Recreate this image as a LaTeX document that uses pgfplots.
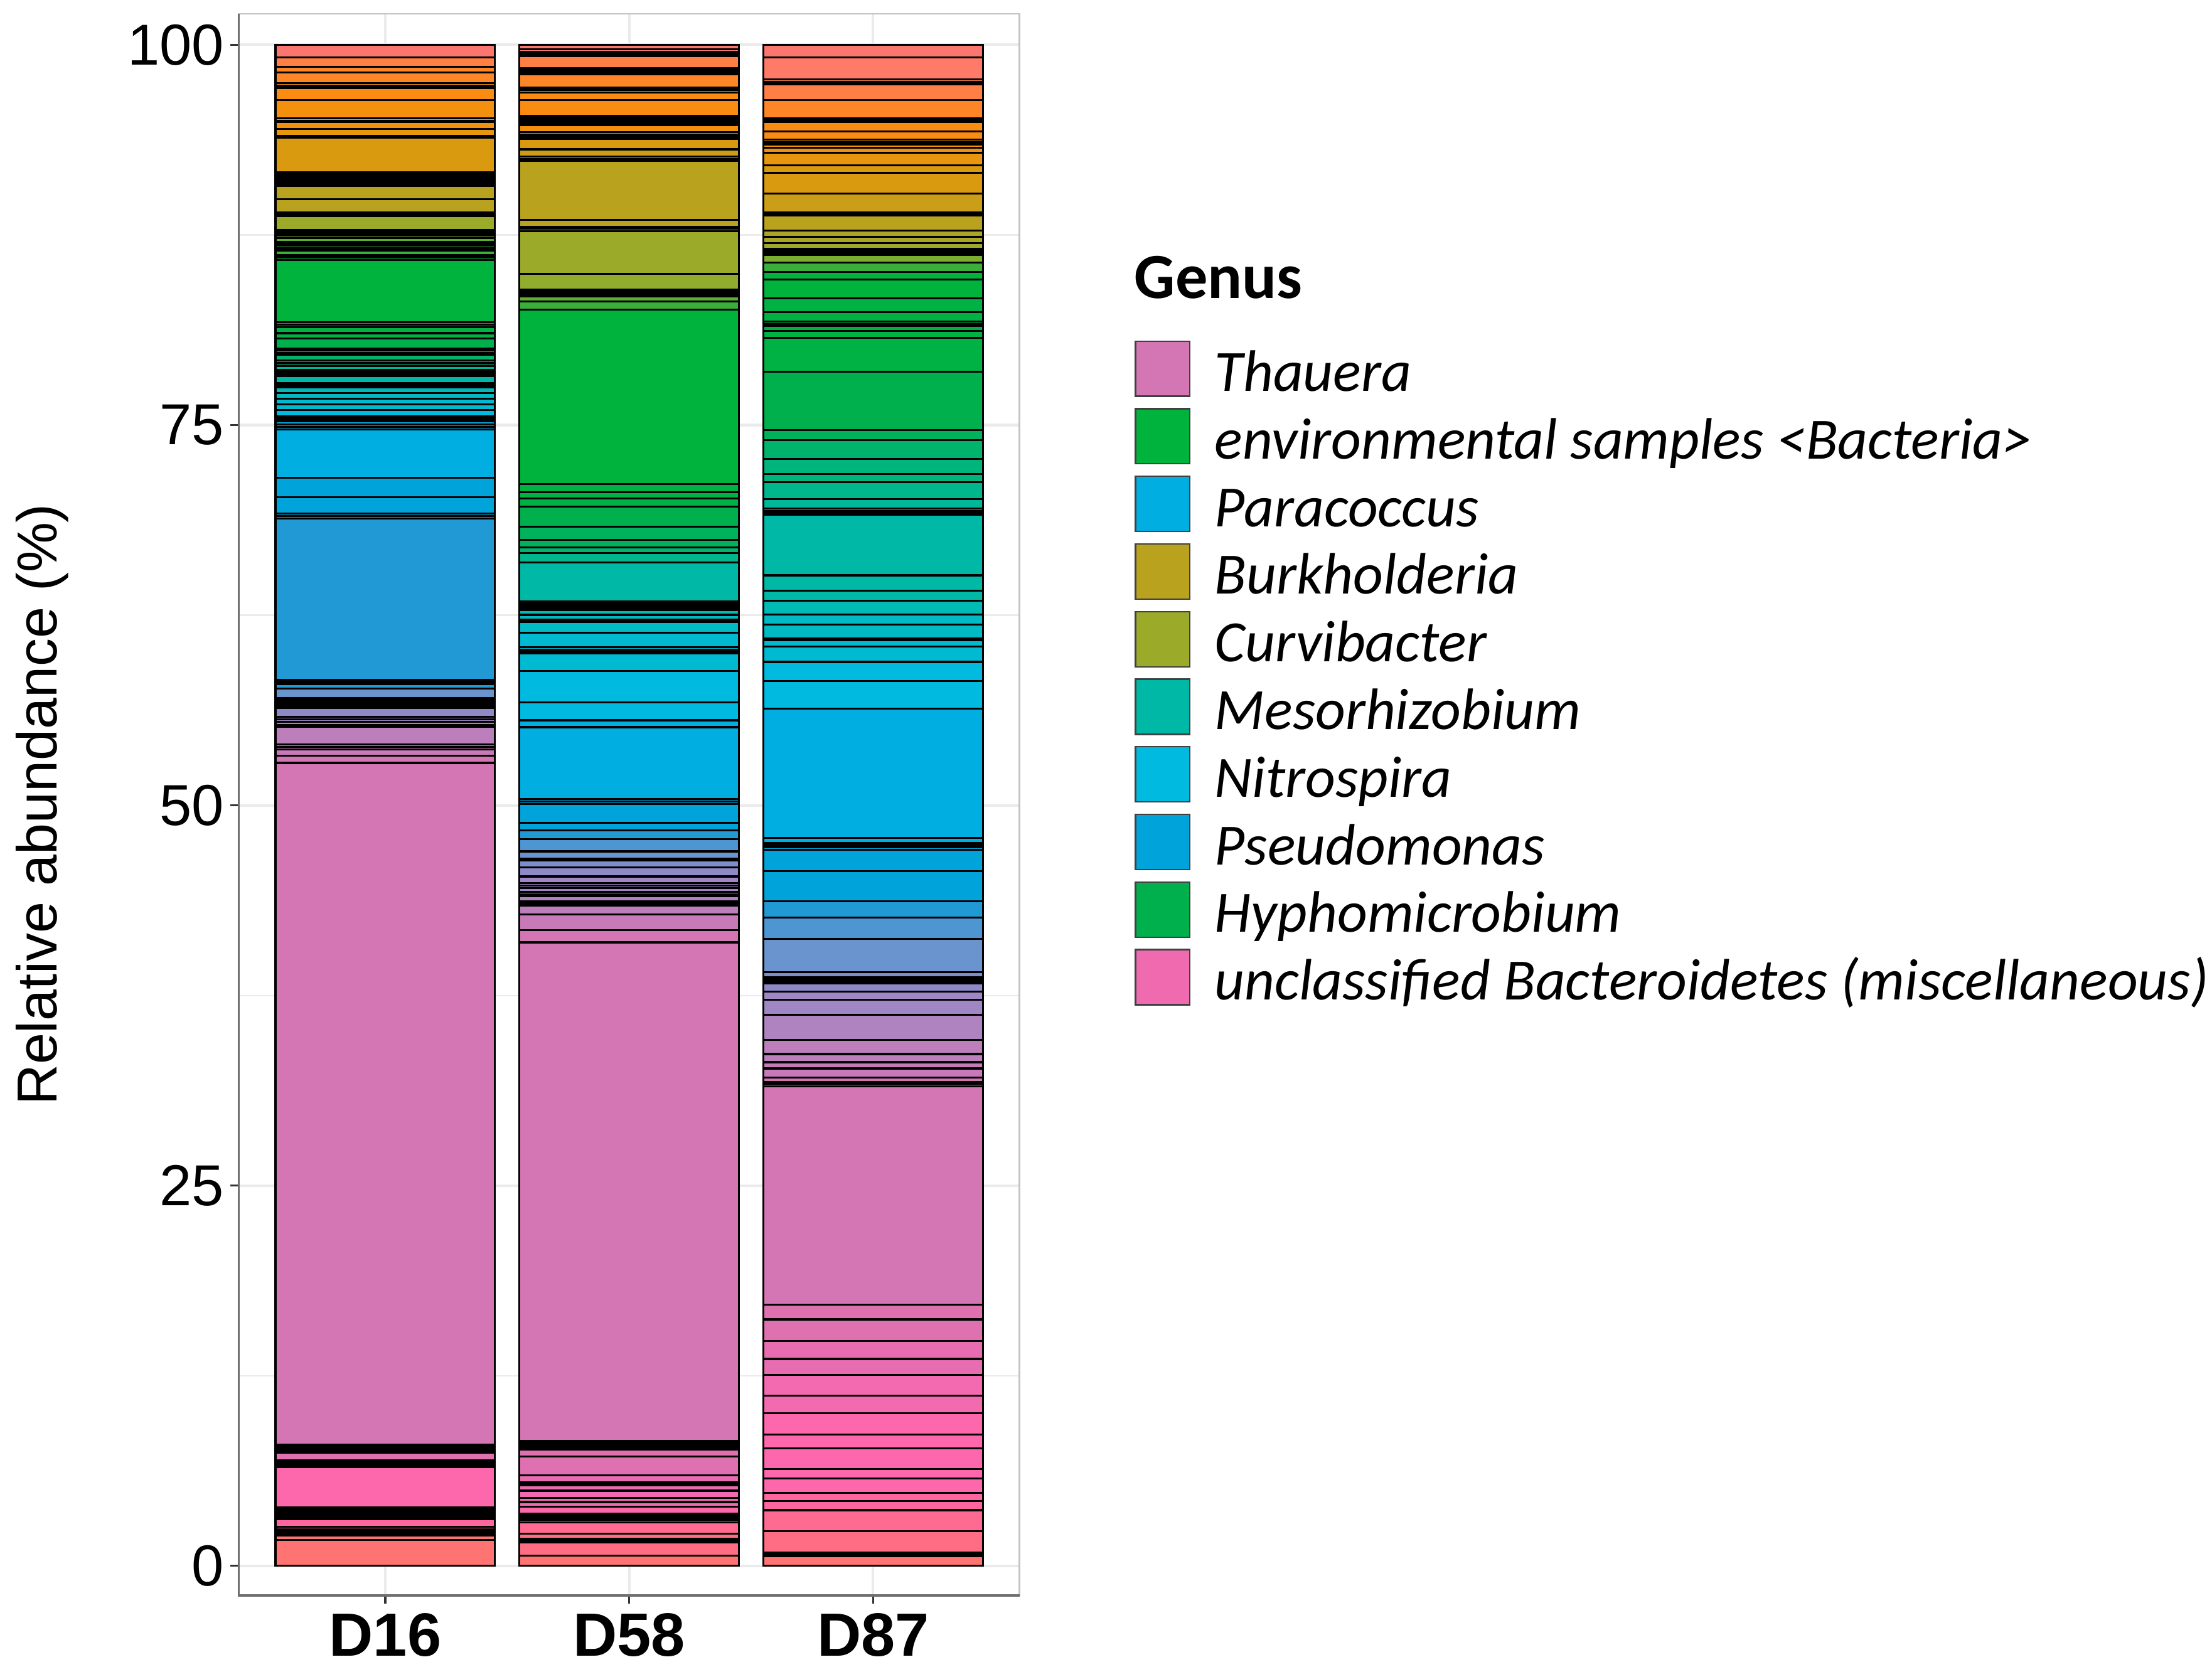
\documentclass[border=0pt]{standalone}
\usepackage{pgfplots}
\usepackage{pgfplotstable}
\pgfplotsset{compat=1.18}
\usepackage{fontspec}
\setmainfont{Liberation Sans}
\newfontfamily\calib{Carlito}

% genus palette, from the top of the stack down to the bottom
\definecolor{r1}{HTML}{FA766E}
\definecolor{r2}{HTML}{FF7B68}
\definecolor{o1}{HTML}{FF7F45}
\definecolor{o2}{HTML}{FF8626}
\definecolor{o3}{HTML}{FA8C12}
\definecolor{o4}{HTML}{F3910E}
\definecolor{o5}{HTML}{E8960E}
\definecolor{g1}{HTML}{DA9A10}
\definecolor{g2}{HTML}{CB9E17}
\definecolor{g3}{HTML}{B9A21E}
\definecolor{y1}{HTML}{AAA526}
\definecolor{y2}{HTML}{9CAA2A}
\definecolor{y2b}{HTML}{92AD2E}
\definecolor{y3}{HTML}{7CAE30}
\definecolor{y4}{HTML}{5BB032}
\definecolor{gr1}{HTML}{3AB03A}
\definecolor{gr2}{HTML}{00B33C}
\definecolor{gr3}{HTML}{00B143}
\definecolor{gr4}{HTML}{00B04C}
\definecolor{gr5}{HTML}{00B25C}
\definecolor{gr6}{HTML}{00B46C}
\definecolor{gr7}{HTML}{00B57C}
\definecolor{gr8}{HTML}{00B68C}
\definecolor{t1}{HTML}{00B798}
\definecolor{t2}{HTML}{00B8A6}
\definecolor{t3}{HTML}{00BAB6}
\definecolor{t4}{HTML}{00BAC4}
\definecolor{c1}{HTML}{00BAD2}
\definecolor{c2}{HTML}{00BAE0}
\definecolor{b1}{HTML}{00AEE2}
\definecolor{b2}{HTML}{00A4DA}
\definecolor{b3}{HTML}{2099D4}
\definecolor{b4}{HTML}{4E96D2}
\definecolor{b5}{HTML}{6A94CE}
\definecolor{b6}{HTML}{7C8FCB}
\definecolor{pu1}{HTML}{8E8AC8}
\definecolor{pu2}{HTML}{A086C4}
\definecolor{pu3}{HTML}{AE83C0}
\definecolor{pu4}{HTML}{BC7FBC}
\definecolor{pu5}{HTML}{C87AB8}
\definecolor{th}{HTML}{D476B4}
\definecolor{pk1}{HTML}{DF71B1}
\definecolor{pk2}{HTML}{E86DB0}
\definecolor{pk3}{HTML}{F36AB0}
\definecolor{pk4}{HTML}{FD67AC}
\definecolor{pk5}{HTML}{FF66A0}
\definecolor{pk6}{HTML}{FF6A92}
\definecolor{pk7}{HTML}{FF6D84}
\definecolor{r0}{HTML}{FF7373}
\definecolor{unclL}{HTML}{F06AB0}
\definecolor{gridc}{HTML}{EBEBEB}
\definecolor{bordc}{HTML}{C4C4C4}
\definecolor{axisc}{HTML}{6F6F6F}
\definecolor{tickc}{HTML}{333333}

% cumulative top (%) of every segment, read top-down
\pgfplotstableread[row sep=\\]{
top col\\
100 r1\\ 99.18 o1\\ 98.55 o2\\ 98.17 o2\\ 97.48 o3\\ 97.32 o3\\ 97.17 o3\\ 96.35 o4\\
95.18 o4\\ 95.02 o4\\ 94.91 o4\\ 94.46 o5\\ 94.01 o5\\ 93.88 g1\\ 91.61 g1\\ 91.48 g2\\
91.35 g2\\ 91.22 g2\\ 91.09 g2\\ 90.96 g2\\ 90.84 g2\\ 90.72 g3\\ 89.84 g3\\ 89.00 y1\\
88.86 y1\\ 88.73 y2\\ 87.83 y3\\ 87.70 y3\\ 87.57 y3\\ 87.44 y3\\ 87.28 y4\\ 87.04 y4\\
86.92 gr1\\ 86.80 gr1\\ 86.62 gr1\\ 86.49 gr1\\ 86.16 gr2\\ 86.00 gr2\\ 85.84 gr2\\
81.77 gr3\\ 81.61 gr3\\ 81.45 gr3\\ 81.04 gr3\\ 80.68 gr4\\ 80.04 gr5\\ 79.90 gr5\\
79.76 gr5\\ 79.62 gr6\\ 79.25 gr7\\ 79.08 gr7\\ 78.90 t1\\ 78.61 t1\\ 78.47 t1\\ 78.34 t1\\
78.20 t2\\ 77.74 t3\\ 77.60 t3\\ 77.47 t3\\ 77.12 t4\\ 76.74 c1\\ 76.37 c1\\ 75.99 c2\\
75.59 c2\\ 75.43 b2\\ 75.27 b2\\ 75.04 b2\\ 74.88 b2\\ 74.72 b1\\ 71.55 b2\\ 70.26 b2\\
69.18 b2\\ 69.02 b3\\ 68.85 b3\\ 58.23 b3\\ 58.09 b3\\ 57.96 b3\\ 57.66 b5\\ 57.06 b6\\
56.93 b6\\ 56.80 b6\\ 56.67 b6\\ 56.54 b6\\ 56.41 pu1\\ 55.83 pu2\\ 55.66 pu2\\ 55.48 pu3\\
55.30 pu3\\ 55.17 pu4\\ 54.02 pu5\\ 53.84 pu5\\ 53.66 pu5\\ 53.26 th\\ 52.79 th\\
7.95 pk1\\ 7.82 pk1\\ 7.69 pk1\\ 7.56 pk1\\ 7.45 pk1\\ 6.92 pk2\\ 6.78 pk2\\ 6.64 pk2\\
6.51 pk4\\ 3.83 pk4\\ 3.70 pk4\\ 3.57 pk5\\ 3.44 pk5\\ 3.31 pk5\\ 3.18 pk5\\ 3.08 pk5\\
2.58 pk6\\ 2.39 pk7\\ 2.26 pk7\\ 2.13 pk7\\ 2.01 r0\\ 1.72 r0\\
}\dsixteen

\pgfplotstableread[row sep=\\]{
top col\\
100 r1\\ 99.70 r1\\ 99.52 r1\\ 99.36 o1\\ 99.24 o1\\ 98.48 o2\\ 98.34 o2\\ 98.20 o2\\
98.07 o2\\ 97.17 o3\\ 97.02 o3\\ 96.87 o3\\ 96.38 o3\\ 95.32 o4\\ 95.19 o4\\ 95.06 o4\\
94.93 o4\\ 94.80 o4\\ 94.70 o4\\ 94.26 o5\\ 94.10 o5\\ 93.96 o5\\ 93.83 g1\\ 93.13 g2\\
92.64 g2\\ 92.50 g2\\ 92.37 g3\\ 88.50 g3\\ 88.04 y1\\ 87.90 y1\\ 87.76 y2\\ 84.93 y2b\\
83.92 y3\\ 83.80 y3\\ 83.68 y3\\ 83.56 y3\\ 83.44 y4\\ 83.11 gr1\\ 82.60 gr2\\ 71.13 gr3\\
70.60 gr3\\ 70.17 gr3\\ 69.62 gr4\\ 68.33 gr5\\ 67.44 gr5\\ 66.96 gr6\\ 66.60 gr8\\
65.96 t2\\ 63.41 t3\\ 63.29 t3\\ 63.18 t3\\ 63.04 t3\\ 62.93 t3\\ 62.83 t3\\ 62.52 t4\\
62.22 t4\\ 62.13 t4\\ 62.04 t4\\ 61.35 c1\\ 60.39 c1\\ 60.25 c1\\ 60.11 c1\\ 59.98 c1\\
58.83 c2\\ 56.77 c2\\ 55.59 b1\\ 55.14 b1\\ 50.40 b2\\ 50.25 b2\\ 50.09 b2\\ 48.86 b2\\
48.34 b3\\ 47.79 b4\\ 46.97 b5\\ 46.48 b6\\ 46.38 b6\\ 45.92 pu1\\ 45.32 pu2\\ 44.90 pu2\\
44.73 pu2\\ 44.56 pu2\\ 44.31 pu3\\ 44.16 pu3\\ 44.01 pu3\\ 43.67 pu4\\ 43.53 pu4\\
43.39 pu4\\ 42.84 pu5\\ 41.78 th\\ 40.99 th\\ 8.23 th\\ 8.12 pk1\\ 8.02 pk1\\ 7.90 pk1\\
7.78 pk1\\ 7.63 pk1\\ 7.20 pk1\\ 5.94 pk2\\ 5.48 pk2\\ 5.38 pk2\\ 5.28 pk2\\ 4.94 pk3\\
4.45 pk3\\ 4.20 pk3\\ 3.88 pk4\\ 3.42 pk5\\ 3.29 pk5\\ 3.16 pk5\\ 3.02 pk5\\ 2.87 pk6\\
2.11 pk7\\ 1.77 pk7\\ 1.65 pk7\\ 1.54 pk7\\ 0.68 r0\\
}\dfiftyeight

\pgfplotstableread[row sep=\\]{
top col\\
100 r1\\ 99.18 r2\\ 97.72 o1\\ 97.57 o1\\ 97.42 o1\\ 96.35 o2\\ 95.18 o3\\ 95.04 o3\\
94.91 o3\\ 94.32 o3\\ 93.77 o4\\ 93.62 o4\\ 93.46 o4\\ 93.22 o4\\ 92.89 o5\\ 92.07 g1\\
91.57 g1\\ 90.22 g2\\ 89.00 g3\\ 88.88 g3\\ 88.77 g3\\ 87.80 y1\\ 87.38 y1\\ 86.96 y2\\
86.57 y3\\ 86.44 y3\\ 86.31 y3\\ 86.18 y3\\ 85.70 gr1\\ 85.06 gr2\\ 84.56 gr2\\ 83.34 gr3\\
82.44 gr3\\ 81.79 gr3\\ 81.65 gr3\\ 81.52 gr3\\ 81.18 gr3\\ 80.73 gr3\\ 78.50 gr4\\
74.68 gr5\\ 74.02 gr6\\ 72.76 gr7\\ 71.80 gr7\\ 71.26 gr8\\ 70.15 t1\\ 69.50 t1\\ 69.36 t1\\
69.22 t2\\ 69.09 t2\\ 65.12 t2\\ 64.11 t2\\ 63.45 t3\\ 62.54 t4\\ 61.90 t4\\ 60.98 c1\\
60.86 c1\\ 60.43 c1\\ 59.43 c2\\ 58.18 c2\\ 56.36 b1\\ 47.86 b1\\ 47.51 b2\\ 47.37 b2\\
47.23 b2\\ 47.06 b2\\ 45.69 b2\\ 43.70 b3\\ 42.62 b4\\ 41.23 b5\\ 39.04 b6\\ 38.68 pu1\\
38.54 pu1\\ 38.41 pu1\\ 38.31 pu1\\ 37.74 pu2\\ 37.22 pu2\\ 36.21 pu3\\ 34.58 pu4\\
33.65 pu4\\ 33.11 pu5\\ 32.70 pu5\\ 32.11 th\\ 31.82 th\\ 31.68 th\\ 31.54 th\\ 17.16 pk1\\
16.20 pk1\\ 14.79 pk2\\ 13.60 pk2\\ 12.54 pk3\\ 11.18 pk3\\ 10.03 pk4\\ 8.63 pk4\\
7.73 pk4\\ 6.35 pk4\\ 5.76 pk4\\ 4.78 pk5\\ 4.25 pk5\\ 3.66 pk6\\ 2.28 pk7\\ 0.88 pk7\\
0.74 pk7\\ 0.62 r0\\
}\deightyseven

\pgfplotsset{
  seg/.style={ybar, bar width=0.9, bar shift=0pt, draw=black, line width=0.42pt, forget plot},
  legkey/.style={draw=black!75, line width=0.3pt},
}

% one bar per segment, tallest first, so each later one covers the lower part
\newcommand\stackbar[2]{%
  \pgfplotstablegetrowsof{#2}%
  \pgfmathtruncatemacro\lastrow{\pgfplotsretval-1}%
  \pgfplotsinvokeforeach{0,...,\lastrow}{%
    \pgfplotstablegetelem{##1}{top}\of{#2}\let\segtop\pgfplotsretval
    \pgfplotstablegetelem{##1}{col}\of{#2}\let\segcol\pgfplotsretval
    \edef\segplot{\noexpand\addplot[seg, fill=\segcol] coordinates {(#1,\segtop)};}%
    \segplot
  }%
}

\begin{document}
\begin{tikzpicture}
\begin{axis}[
  scale only axis,
  width=166.15pt, height=336.69pt,
  clip=false,
  xmin=0.4, xmax=3.6, ymin=-1.94, ymax=102.04,
  xtick={1,2,3}, xticklabels={D16,D58,D87},
  ytick={0,25,50,75,100},
  minor ytick={12.5,37.5,62.5,87.5},
  minor tick length=0pt,
  xtick pos=bottom, ytick pos=left,
  tick align=outside, major tick length=1.8pt,
  tick style={color=tickc, line width=0.45pt},
  ymajorgrids, yminorgrids, xmajorgrids,
  major grid style={color=gridc, line width=0.55pt},
  minor grid style={color=gridc, line width=0.3pt},
  axis line style={draw=bordc, line width=0.35pt},
  /pgf/number format/assume math mode=true,
  yticklabel style={font=\fontsize{12.3}{12.3}\selectfont, inner sep=0pt, xshift=-1.2pt},
  xticklabel style={font=\bfseries\fontsize{13}{13}\selectfont, inner sep=0pt, yshift=-1.8pt},
  ylabel={Relative abundance (\%)},
  ylabel style={font=\fontsize{12}{12}\selectfont, at={(axis description cs:-0.2523,0.5)}, anchor=center},
  legend style={at={(1.1478,0.7935)}, anchor=north west, draw=none, fill=none,
    inner sep=0pt, outer sep=0pt, row sep=0.8pt, column sep=5.2pt,
    font=\calib\itshape\fontsize{12.45}{12.45}\selectfont,
    nodes={inner sep=0pt, text height=10.5pt, text depth=2.77pt}},
  legend cell align=left,
  legend image code/.code={\draw[#1] (0pt,-4.93pt) rectangle (11.5pt,6.81pt);},
]
\stackbar{1}{\dsixteen}
\stackbar{2}{\dfiftyeight}
\stackbar{3}{\deightyseven}

\addlegendimage{legkey, fill=th}\addlegendentry{Thauera}
\addlegendimage{legkey, fill=gr2}\addlegendentry{environmental samples <Bacteria>}
\addlegendimage{legkey, fill=b1}\addlegendentry{Paracoccus}
\addlegendimage{legkey, fill=g3}\addlegendentry{Burkholderia}
\addlegendimage{legkey, fill=y2}\addlegendentry{Curvibacter}
\addlegendimage{legkey, fill=t2}\addlegendentry{Mesorhizobium}
\addlegendimage{legkey, fill=c2}\addlegendentry{Nitrospira}
\addlegendimage{legkey, fill=b2}\addlegendentry{Pseudomonas}
\addlegendimage{legkey, fill=gr4}\addlegendentry{Hyphomicrobium}
\addlegendimage{legkey, fill=unclL}\addlegendentry{unclassified Bacteroidetes (miscellaneous)}

\node[anchor=base west, inner sep=0pt, font=\calib\bfseries\fontsize{13.7}{13.7}\selectfont]
  at (axis description cs:1.1461,0.8201) {Genus};
\draw[axisc, line width=0.45pt] (rel axis cs:0,1) -- (rel axis cs:0,0) -- (rel axis cs:1,0);
\end{axis}
\path (-50.44pt,-15.21pt) rectangle (419.97pt,339.63pt);
\end{tikzpicture}
\end{document}
